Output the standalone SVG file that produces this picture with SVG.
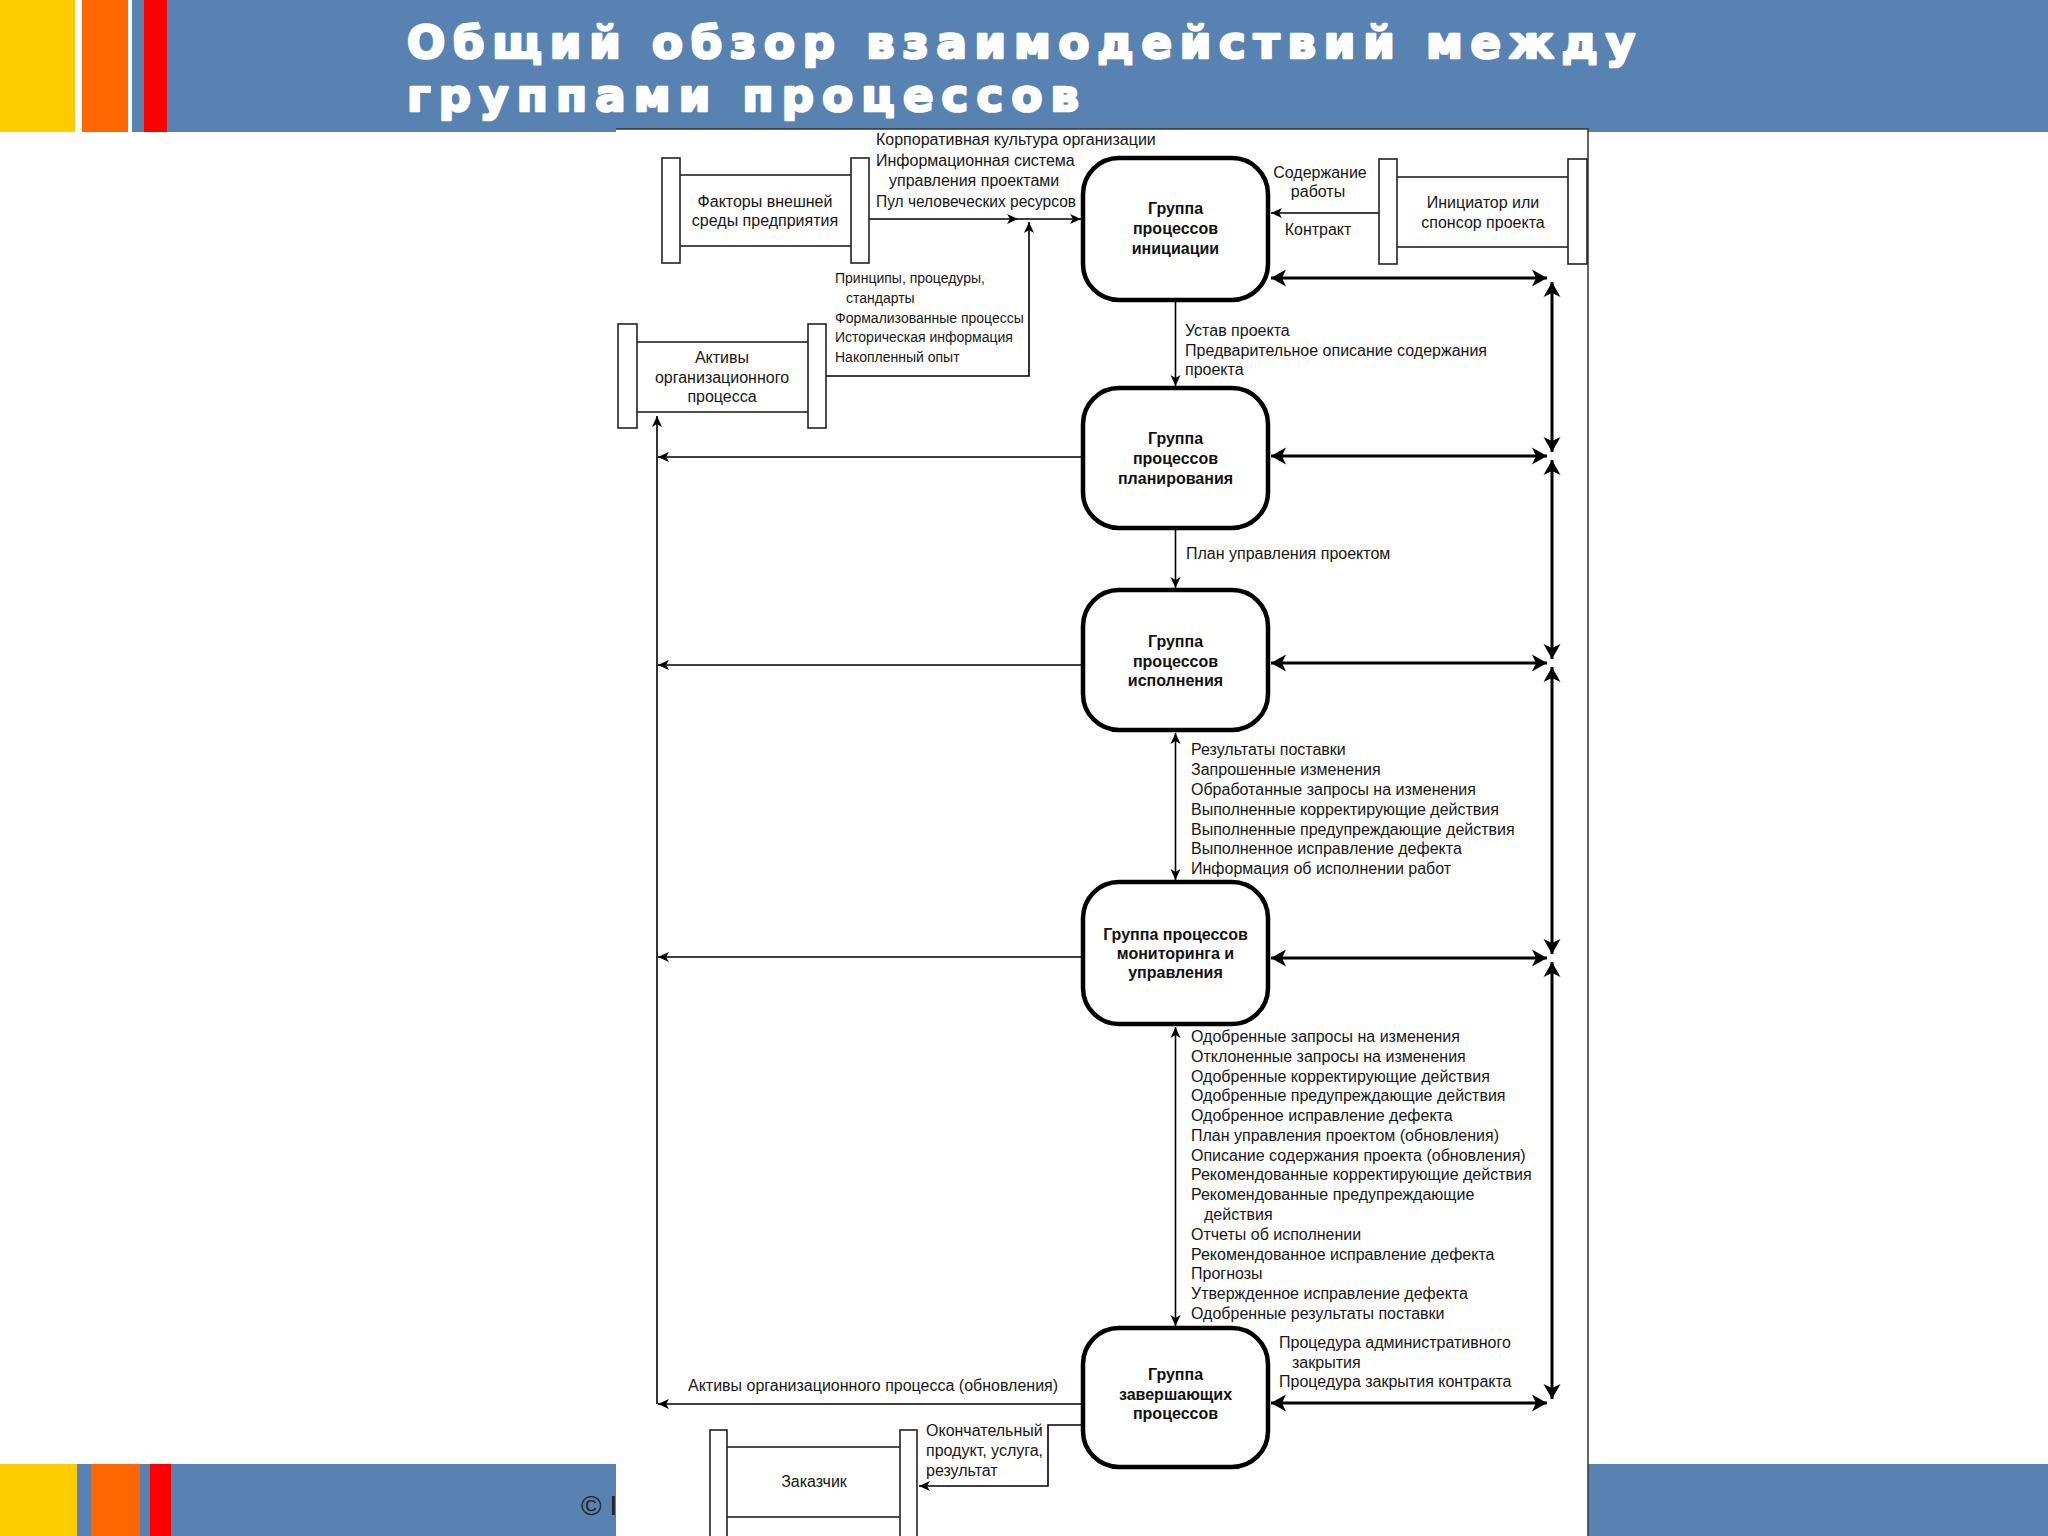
<svg xmlns="http://www.w3.org/2000/svg" width="2048" height="1536" viewBox="0 0 2048 1536">
<style>
.t{font-family:"Liberation Sans",Arial,sans-serif;font-size:16px;fill:#161616}
.s{font-size:14px}
.b{font-weight:bold;text-anchor:middle;fill:#111}
.c{text-anchor:middle}
.proc{fill:#fff;stroke:#000;stroke-width:4.5}
.ent{fill:#fff;stroke:#222;stroke-width:1.6}
.thin{fill:none;stroke:#000;stroke-width:1.6}
.thick{fill:none;stroke:#000;stroke-width:3}
.title{font-family:"DejaVu Sans",sans-serif;font-weight:bold;font-size:45px;fill:#fff;stroke:#fff;stroke-width:2.6;stroke-linejoin:round}
</style>
<defs>
<marker id="a" viewBox="-12 -6 13 12" refX="0" refY="0" markerWidth="13" markerHeight="12" markerUnits="userSpaceOnUse" orient="auto-start-reverse"><path d="M0,0 L-11,-5 L-8,0 L-11,5 Z" fill="#000"/></marker>
<marker id="A" viewBox="-16 -9 17 18" refX="0" refY="0" markerWidth="17" markerHeight="18" markerUnits="userSpaceOnUse" orient="auto-start-reverse"><path d="M0,0 L-15,-8.5 L-11,0 L-15,8.5 Z" fill="#000"/></marker>
</defs>
<rect width="2048" height="1536" fill="#fff"/>
<g id="header">
<rect x="0" y="0" width="2048" height="132" fill="#5782B1"/>
<rect x="0" y="0" width="75" height="132" fill="#FFCC00"/>
<rect x="75" y="0" width="7" height="132" fill="#fff"/>
<rect x="82" y="0" width="46" height="132" fill="#FF6600"/>
<rect x="128" y="0" width="4" height="132" fill="#fff"/>
<rect x="144" y="0" width="23" height="132" fill="#FF0000"/>
<text class="title" x="407" y="58" textLength="1228" lengthAdjust="spacing">Общий обзор взаимодействий между</text>
<text class="title" x="407" y="111" textLength="672" lengthAdjust="spacing">группами процессов</text>
</g>
<g id="footer">
<rect x="0" y="1464" width="2048" height="72" fill="#5782B1"/>
<rect x="0" y="1464" width="77" height="72" fill="#FFCC00"/>
<rect x="91" y="1464" width="49" height="72" fill="#FF6600"/>
<rect x="150" y="1464" width="21" height="72" fill="#FF0000"/>
<text x="581" y="1515" font-family="Liberation Sans, sans-serif" font-size="28" fill="#222">© I</text>
</g>
<g id="picture">
<rect x="616" y="129" width="972" height="1407" fill="#fff"/>
<path d="M616,129 H1588 V1536" fill="none" stroke="#333" stroke-width="1.5"/>
</g>
<g id="connectors">
<path class="thin" d="M869,219 H1018" marker-end="url(#a)"/>
<path class="thin" d="M1018,219 H1081" marker-end="url(#a)"/>
<path class="thin" d="M826,376 H1029 V222" marker-end="url(#a)"/>
<path class="thin" d="M1175.5,302 V386" marker-end="url(#a)"/>
<path class="thin" d="M1175.5,530 V588" marker-end="url(#a)"/>
<path class="thin" d="M1175.5,733 V880" marker-start="url(#a)" marker-end="url(#a)"/>
<path class="thin" d="M1175.5,1027 V1326" marker-start="url(#a)" marker-end="url(#a)"/>
<path class="thin" d="M1379,213 H1271" marker-end="url(#a)"/>
<path class="thick" d="M1271,278 H1547" marker-start="url(#A)" marker-end="url(#A)"/>
<path class="thick" d="M1271,456 H1547" marker-start="url(#A)" marker-end="url(#A)"/>
<path class="thick" d="M1271,663 H1547" marker-start="url(#A)" marker-end="url(#A)"/>
<path class="thick" d="M1271,958 H1547" marker-start="url(#A)" marker-end="url(#A)"/>
<path class="thick" d="M1271,1403 H1547" marker-start="url(#A)" marker-end="url(#A)"/>
<path class="thick" d="M1552,282 V452" marker-start="url(#A)" marker-end="url(#A)"/>
<path class="thick" d="M1552,460 V659" marker-start="url(#A)" marker-end="url(#A)"/>
<path class="thick" d="M1552,667 V954" marker-start="url(#A)" marker-end="url(#A)"/>
<path class="thick" d="M1552,962 V1399" marker-start="url(#A)" marker-end="url(#A)"/>
<path class="thin" d="M1081,457 H658" marker-end="url(#a)"/>
<path class="thin" d="M1081,665 H658" marker-end="url(#a)"/>
<path class="thin" d="M1081,957 H658" marker-end="url(#a)"/>
<path class="thin" d="M1081,1404 H658" marker-end="url(#a)"/>
<path class="thin" d="M657,1404 V416" marker-end="url(#a)"/>
<path class="thin" d="M1081,1425 H1048 V1486 H919" marker-end="url(#a)"/>
</g>
<g id="labels" class="t">
<text x="876" y="145">Корпоративная культура организации</text>
<text x="876" y="166">Информационная система</text>
<text x="889" y="186">управления проектами</text>
<text x="876" y="207" textLength="200" lengthAdjust="spacingAndGlyphs">Пул человеческих ресурсов</text>
<g class="s">
<text x="835" y="283">Принципы, процедуры,</text>
<text x="846" y="303">стандарты</text>
<text x="835" y="323">Формализованные процессы</text>
<text x="835" y="342">Историческая информация</text>
<text x="835" y="362">Накопленный опыт</text>
</g>
<text class="c" x="1320" y="178">Содержание</text>
<text class="c" x="1318" y="197">работы</text>
<text class="c" x="1318" y="235">Контракт</text>
<text x="1185" y="336">Устав проекта</text>
<text x="1185" y="356">Предварительное описание содержания</text>
<text x="1185" y="375">проекта</text>
<text x="1186" y="559">План управления проектом</text>
<text x="1191" y="755">Результаты поставки</text>
<text x="1191" y="775">Запрошенные изменения</text>
<text x="1191" y="795">Обработанные запросы на изменения</text>
<text x="1191" y="815">Выполненные корректирующие действия</text>
<text x="1191" y="835">Выполненные предупреждающие действия</text>
<text x="1191" y="854">Выполненное исправление дефекта</text>
<text x="1191" y="874">Информация об исполнении работ</text>
<text x="1191" y="1042">Одобренные запросы на изменения</text>
<text x="1191" y="1062">Отклоненные запросы на изменения</text>
<text x="1191" y="1082">Одобренные корректирующие действия</text>
<text x="1191" y="1101">Одобренные предупреждающие действия</text>
<text x="1191" y="1121">Одобренное исправление дефекта</text>
<text x="1191" y="1141">План управления проектом (обновления)</text>
<text x="1191" y="1161">Описание содержания проекта (обновления)</text>
<text x="1191" y="1180">Рекомендованные корректирующие действия</text>
<text x="1191" y="1200">Рекомендованные предупреждающие</text>
<text x="1204" y="1220">действия</text>
<text x="1191" y="1240">Отчеты об исполнении</text>
<text x="1191" y="1260">Рекомендованное исправление дефекта</text>
<text x="1191" y="1279">Прогнозы</text>
<text x="1191" y="1299">Утвержденное исправление дефекта</text>
<text x="1191" y="1319">Одобренные результаты поставки</text>
<text x="1279" y="1348">Процедура административного</text>
<text x="1292" y="1368">закрытия</text>
<text x="1279" y="1387">Процедура закрытия контракта</text>
<text x="688" y="1391">Активы организационного процесса (обновления)</text>
<text x="926" y="1436">Окончательный</text>
<text x="926" y="1456">продукт, услуга,</text>
<text x="926" y="1476">результат</text>
</g>
<g id="n-factors" class="t">
<rect class="ent" x="671" y="175" width="189" height="71"/>
<rect class="ent" x="662" y="158" width="18" height="105"/>
<rect class="ent" x="851" y="158" width="18" height="105"/>
<text class="c" x="765" y="207">Факторы внешней</text>
<text class="c" x="765" y="226">среды предприятия</text>
</g>
<g id="n-assets" class="t">
<rect class="ent" x="628" y="342" width="189" height="70"/>
<rect class="ent" x="618" y="324" width="19" height="104"/>
<rect class="ent" x="808" y="324" width="18" height="104"/>
<text class="c" x="722" y="363">Активы</text>
<text class="c" x="722" y="383">организационного</text>
<text class="c" x="722" y="402">процесса</text>
</g>
<g id="n-sponsor" class="t">
<rect class="ent" x="1388" y="177" width="190" height="70"/>
<rect class="ent" x="1379" y="159" width="18" height="105"/>
<rect class="ent" x="1568" y="159" width="19" height="105"/>
<text class="c" x="1483" y="208">Инициатор или</text>
<text class="c" x="1483" y="228">спонсор проекта</text>
</g>
<g id="n-customer" class="t">
<rect class="ent" x="718" y="1447" width="190" height="70"/>
<rect class="ent" x="710" y="1430" width="17" height="120"/>
<rect class="ent" x="900" y="1430" width="17" height="120"/>
<text class="c" x="814" y="1487">Заказчик</text>
</g>
<g id="n-init" class="t">
<rect class="proc" x="1083" y="158" width="185" height="142" rx="36"/>
<text class="b" x="1175.5" y="214">Группа</text>
<text class="b" x="1175.5" y="234">процессов</text>
<text class="b" x="1175.5" y="254">инициации</text>
</g>
<g id="n-plan" class="t">
<rect class="proc" x="1083" y="388" width="185" height="140" rx="36"/>
<text class="b" x="1175.5" y="444">Группа</text>
<text class="b" x="1175.5" y="464">процессов</text>
<text class="b" x="1175.5" y="484">планирования</text>
</g>
<g id="n-exec" class="t">
<rect class="proc" x="1083" y="590" width="185" height="140" rx="36"/>
<text class="b" x="1175.5" y="647">Группа</text>
<text class="b" x="1175.5" y="667">процессов</text>
<text class="b" x="1175.5" y="686">исполнения</text>
</g>
<g id="n-monitor" class="t">
<rect class="proc" x="1083" y="882" width="185" height="142" rx="36"/>
<text class="b" x="1175.5" y="940">Группа процессов</text>
<text class="b" x="1175.5" y="959">мониторинга и</text>
<text class="b" x="1175.5" y="978">управления</text>
</g>
<g id="n-close" class="t">
<rect class="proc" x="1083" y="1328" width="185" height="139" rx="36"/>
<text class="b" x="1175.5" y="1380">Группа</text>
<text class="b" x="1175.5" y="1400">завершающих</text>
<text class="b" x="1175.5" y="1419">процессов</text>
</g>
</svg>
